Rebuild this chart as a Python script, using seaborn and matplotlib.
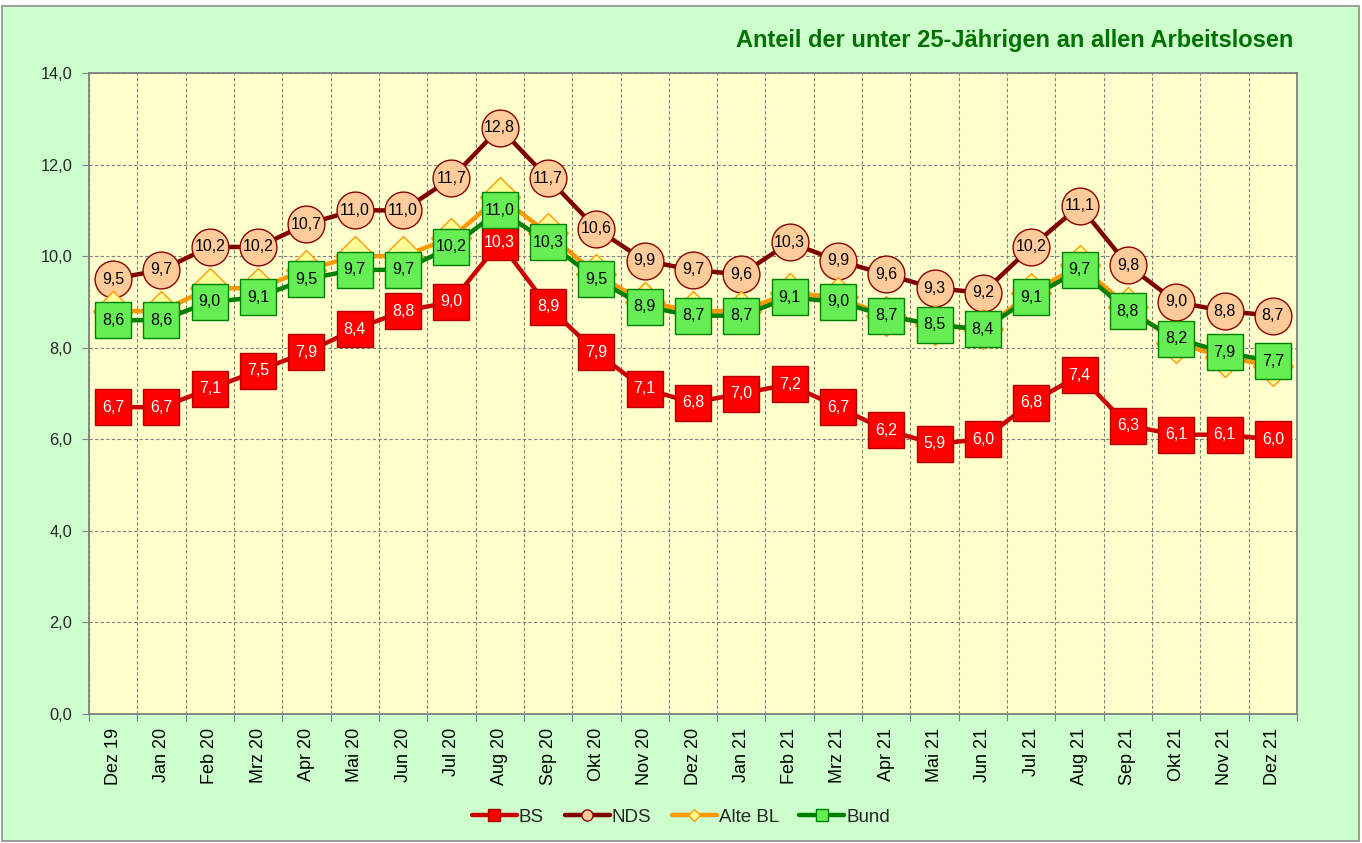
import numpy as np
import pandas as pd
import matplotlib
matplotlib.use("Agg")
import matplotlib.pyplot as plt
import seaborn as sns
from matplotlib.patches import Rectangle
from matplotlib.lines import Line2D
from matplotlib.ticker import FuncFormatter

months = ["Dez 19", "Jan 20", "Feb 20", "Mrz 20", "Apr 20", "Mai 20", "Jun 20",
          "Jul 20", "Aug 20", "Sep 20", "Okt 20", "Nov 20", "Dez 20", "Jan 21",
          "Feb 21", "Mrz 21", "Apr 21", "Mai 21", "Jun 21", "Jul 21", "Aug 21",
          "Sep 21", "Okt 21", "Nov 21", "Dez 21"]
bs = [6.7, 6.7, 7.1, 7.5, 7.9, 8.4, 8.8, 9.0, 10.3, 8.9, 7.9, 7.1, 6.8, 7.0,
      7.2, 6.7, 6.2, 5.9, 6.0, 6.8, 7.4, 6.3, 6.1, 6.1, 6.0]
nds = [9.5, 9.7, 10.2, 10.2, 10.7, 11.0, 11.0, 11.7, 12.8, 11.7, 10.6, 9.9, 9.7,
       9.6, 10.3, 9.9, 9.6, 9.3, 9.2, 10.2, 11.1, 9.8, 9.0, 8.8, 8.7]
alte_bl = [8.8, 8.8, 9.3, 9.3, 9.7, 10.0, 10.0, 10.4, 11.3, 10.5, 9.6, 9.0, 8.8,
           8.8, 9.2, 9.1, 8.7, 8.5, 8.4, 9.2, 9.8, 8.9, 8.1, 7.8, 7.6]
bund = [8.6, 8.6, 9.0, 9.1, 9.5, 9.7, 9.7, 10.2, 11.0, 10.3, 9.5, 8.9, 8.7, 8.7,
        9.1, 9.0, 8.7, 8.5, 8.4, 9.1, 9.7, 8.8, 8.2, 7.9, 7.7]
series_names = ["BS", "NDS", "Alte BL", "Bund"]
y_ticks = [0, 2, 4, 6, 8, 10, 12, 14]
title = "Anteil der unter 25-Jährigen an allen Arbeitslosen"

def de(v):
    return f"{v:.1f}".replace(".", ",")

sns.set_theme(style="white")
plt.rcParams['font.family'] = ['Liberation Sans', 'DejaVu Sans']

W, H = 1362, 843
fig = plt.figure(figsize=(W / 100, H / 100), dpi=100, facecolor="white")
fig.patches.append(Rectangle((2 / W, 2 / H), (1359 - 2) / W, (837 - 2) / H,
                             transform=fig.transFigure, facecolor="#CCFFCC",
                             edgecolor="#8C8C8C", lw=1.2, zorder=-10))

ax = fig.add_axes([89 / W, 1 - 714 / H, (1297 - 89) / W, (714 - 73) / H])
ax.set_zorder(1)
ax.set_facecolor("#FFFFCC")

df = pd.DataFrame({"Monat": months, "BS": bs, "NDS": nds,
                   "Alte BL": alte_bl, "Bund": bund})
long = df.melt(id_vars="Monat", var_name="Reihe", value_name="Anteil")

styles = {
    "BS": dict(color="#CC0000", marker="s", ms=26.5, mfc="#FF0000", mec="#B00000",
               mew=1.0, z=3, txt="white"),
    "NDS": dict(color="#800000", marker="o", ms=26.5, mfc="#FFCC99", mec="#8B0000",
                mew=1.0, z=4, txt="black"),
    "Alte BL": dict(color="#FF9900", marker="D", ms=20, mfc="#FFFF99",
                    mec="#FF9900", mew=1.0, z=5, txt=None),
    "Bund": dict(color="#008000", marker="s", ms=26.5, mfc="#66EE55", mec="#008000",
                 mew=1.0, z=6, txt="black"),
}

for name in series_names:
    st = styles[name]
    sub = long[long["Reihe"] == name]
    sns.lineplot(data=sub, x="Monat", y="Anteil", ax=ax, sort=False,
                 color=st["color"], lw=3.2, marker=st["marker"],
                 markersize=st["ms"], markerfacecolor=st["mfc"],
                 markeredgecolor=st["mec"], markeredgewidth=st["mew"],
                 zorder=st["z"], legend=False)
    if st["txt"]:
        for i, v in enumerate(sub["Anteil"].tolist()):
            ax.text(i, v, de(v), ha="center", va="center", fontsize=11.5,
                    color=st["txt"], zorder=20)

ax.set_xlim(-0.5, len(months) - 0.5)
ax.set_ylim(0, 14)
ax.set_yticks(y_ticks)
ax.yaxis.set_major_formatter(FuncFormatter(lambda v, p: de(v)))
ax.set_xticks(range(len(months)))
ax.set_xticklabels(months, rotation=90)
ax.set_xticks(np.arange(-0.5, len(months), 1), minor=True)
ax.tick_params(axis="x", which="major", length=0, pad=10, labelsize=13,
               colors="black")
ax.tick_params(axis="x", which="minor", length=5, width=0.8, color="#808080",
               direction="out", bottom=True)
ax.tick_params(axis="y", which="major", length=5, width=0.8, color="#808080",
               direction="out", left=True, pad=7, labelsize=11.8)
ax.set_xlabel("")
ax.set_ylabel("")
ax.grid(False)
ax.grid(True, axis="x", which="minor", color="#808080", lw=0.8,
        linestyle=(0, (3, 2)))
ax.grid(True, axis="y", which="major", color="#808080", lw=0.8,
        linestyle=(0, (3, 2)))
ax.set_axisbelow(True)
for sp in ax.spines.values():
    sp.set_color("#808080")
    sp.set_linewidth(1.3)

fig.text(1293 / W, 1 - 40 / H, title, ha="right", va="center", fontsize=17,
         fontweight="bold", color="#007000")

handles = []
for name in series_names:
    st = styles[name]
    handles.append(Line2D([0], [0], color=st["color"], lw=3.2,
                          marker=st["marker"],
                          markersize=8 if st["marker"] != "D" else 6,
                          markerfacecolor=st["mfc"], markeredgecolor=st["mec"],
                          markeredgewidth=1.0))
fig.legend(handles, series_names, loc="center", bbox_to_anchor=(0.5, 1 - 817 / H),
           ncol=4, frameon=False, fontsize=13.5, handlelength=2.4,
           handletextpad=0.1, columnspacing=1.1)

fig.savefig("out.png", dpi=100, facecolor=fig.get_facecolor())
